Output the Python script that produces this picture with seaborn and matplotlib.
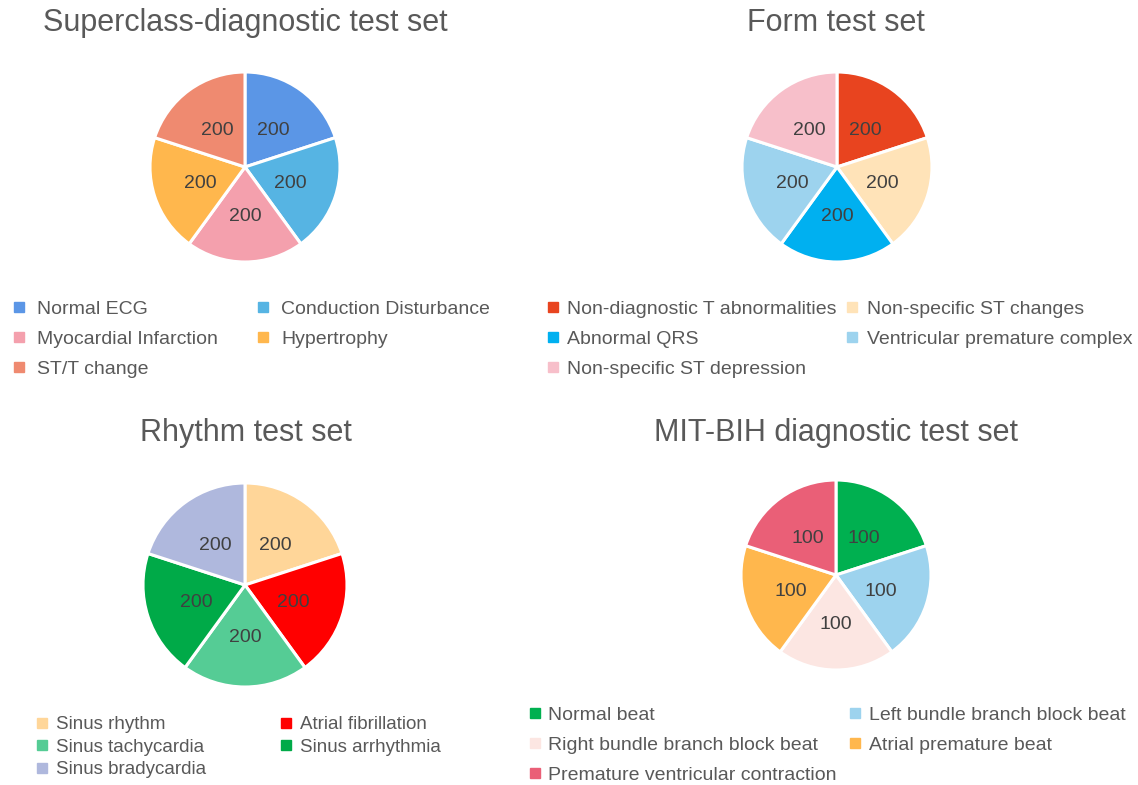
import matplotlib
matplotlib.use("Agg")
import matplotlib.pyplot as plt
from matplotlib.lines import Line2D
import seaborn as sns

sns.set_theme(style="white")
plt.rcParams['font.family'] = ['Liberation Sans', 'DejaVu Sans']

# ---------------- data ----------------
super_title = "Superclass-diagnostic test set"
super_labels = ["Normal ECG", "Conduction Disturbance", "Myocardial Infarction",
                "Hypertrophy", "ST/T change"]
super_values = [200, 200, 200, 200, 200]
super_colors = ["#5B96E6", "#56B4E3", "#F4A0AD", "#FFB74D", "#EF8A70"]

form_title = "Form test set"
form_labels = ["Non-diagnostic T abnormalities", "Non-specific ST changes",
               "Abnormal QRS", "Ventricular premature complex",
               "Non-specific ST depression"]
form_values = [200, 200, 200, 200, 200]
form_colors = ["#E8441F", "#FFE3B8", "#00B0F0", "#9DD3EE", "#F7BFCA"]

rhythm_title = "Rhythm test set"
rhythm_labels = ["Sinus rhythm", "Atrial fibrillation", "Sinus tachycardia",
                 "Sinus arrhythmia", "Sinus bradycardia"]
rhythm_values = [200, 200, 200, 200, 200]
rhythm_colors = ["#FFD699", "#FF0000", "#55CC95", "#00AA48", "#AFB8DD"]

mit_title = "MIT-BIH diagnostic test set"
mit_labels = ["Normal beat", "Left bundle branch block beat",
              "Right bundle branch block beat", "Atrial premature beat",
              "Premature ventricular contraction"]
mit_values = [100, 100, 100, 100, 100]
mit_colors = ["#00B050", "#9DD3EE", "#FCE6E2", "#FFB74D", "#EA5F77"]

# ---------------- layout ----------------
W, H = 1138, 785
fig = plt.figure(figsize=(W / 100, H / 100), dpi=100)
fig.patch.set_facecolor("white")

TEXT = "#595959"
LABEL = "#404040"


def fx(x):
    return x / W


def fy(y):
    return 1 - y / H


panels = [
    dict(title=super_title, labels=super_labels, values=super_values, colors=super_colors,
         c=(245, 167), r=95, t=(245, 23),
         leg=dict(x=13, y=300, fs=14, ls=0.65, cs=2.0, htp=0.65)),
    dict(title=form_title, labels=form_labels, values=form_values, colors=form_colors,
         c=(837, 167), r=95, t=(836, 23),
         leg=dict(x=547, y=300, fs=14, ls=0.65, cs=0.5, htp=0.45)),
    dict(title=rhythm_title, labels=rhythm_labels, values=rhythm_values, colors=rhythm_colors,
         c=(245, 585), r=102, t=(246, 433),
         leg=dict(x=36, y=716, fs=13.5, ls=0.29, cs=3.95, htp=0.45)),
    dict(title=mit_title, labels=mit_labels, values=mit_values, colors=mit_colors,
         c=(836, 575), r=95, t=(836, 433),
         leg=dict(x=529, y=706, fs=14, ls=0.65, cs=0.65, htp=0.4)),
]

for p in panels:
    cx, cy = p["c"]
    r = p["r"]
    ax = fig.add_axes([fx(cx - r), fy(cy + r), 2 * r / W, 2 * r / H])
    total = sum(p["values"])
    wedges, texts, autotexts = ax.pie(
        p["values"], colors=p["colors"], startangle=90, counterclock=False,
        autopct=lambda pct, tot=total: f"{pct * tot / 100:.0f}",
        pctdistance=0.5,
        wedgeprops=dict(edgecolor="white", linewidth=2.2),
        textprops=dict(color=LABEL, fontsize=14, va="center_baseline"),
    )
    ax.set_xlim(-1.0, 1.0)
    ax.set_ylim(-1.0, 1.0)
    ax.set_aspect("equal")
    ax.axis("off")

    tx, ty = p["t"]
    fig.text(fx(tx), fy(ty), p["title"], ha="center", va="center",
             fontsize=22, color=TEXT)

    lg = p["leg"]
    handles = [Line2D([0], [0], marker="s", linestyle="none", markersize=7,
                      markerfacecolor=col, markeredgecolor=col)
               for col in p["colors"]]
    order = [0, 2, 4, 1, 3]
    fig.legend([handles[i] for i in order], [p["labels"][i] for i in order],
               loc="upper left", bbox_to_anchor=(fx(lg["x"]), fy(lg["y"])),
               ncol=2, frameon=False, fontsize=lg["fs"], labelcolor=TEXT,
               borderpad=0, borderaxespad=0, handlelength=0.6,
               handletextpad=lg["htp"], columnspacing=lg["cs"],
               labelspacing=lg["ls"])

fig.savefig("out.png", dpi=100, facecolor="white")
